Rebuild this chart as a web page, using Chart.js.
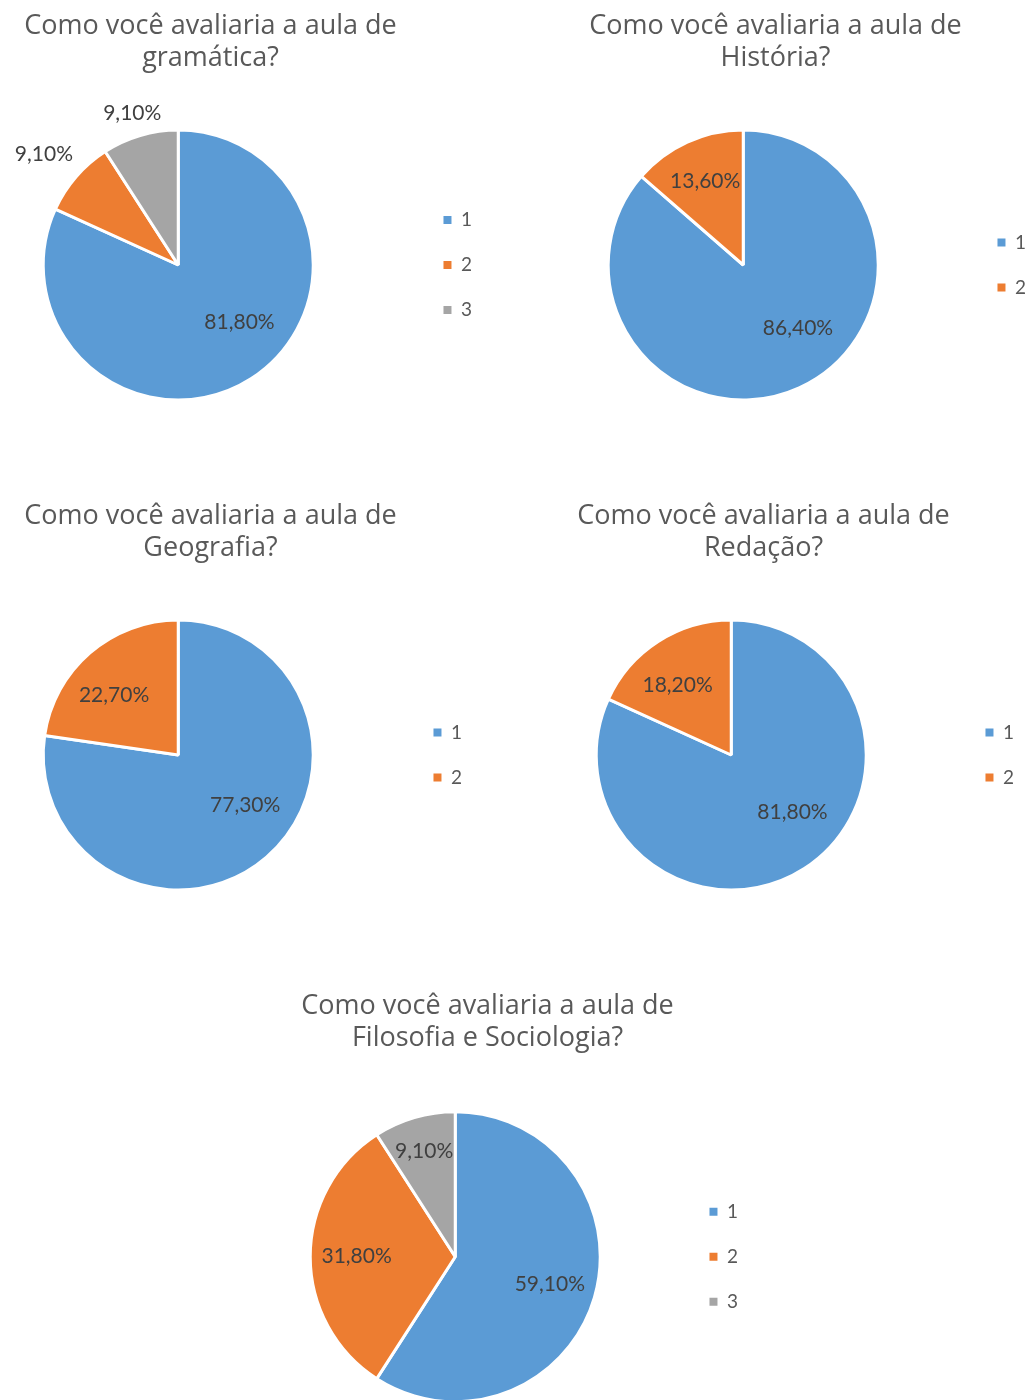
<!DOCTYPE html>
<html>
<head>
<meta charset="utf-8">
<script src="https://cdn.jsdelivr.net/npm/chart.js@4"></script>
<style>
  html, body { margin: 0; padding: 0; background: #fff; }
  body { width: 1032px; height: 1400px; position: relative; overflow: hidden; }
  canvas { position: absolute; }
</style>
</head>
<body>
<canvas id="gramatica" width="543" height="420" style="left:-61px;top:0px"></canvas>
<canvas id="historia" width="521" height="420" style="left:515px;top:0px"></canvas>
<canvas id="geografia" width="523" height="420" style="left:-51px;top:490px"></canvas>
<canvas id="redacao" width="521" height="420" style="left:503px;top:490px"></canvas>
<canvas id="filosofia" width="521" height="440" style="left:227px;top:980px"></canvas>
<script>
// categories (legend)
const labels3 = ["1", "2", "3"];
const labels2 = ["1", "2"];

// series values, in percent
const gramaticaValues = [81.8, 9.1, 9.1];
const historiaValues = [86.4, 13.6];
const geografiaValues = [77.3, 22.7];
const redacaoValues = [81.8, 18.2];
const filosofiaValues = [59.1, 31.8, 9.1];

// titles
const gramaticaTitle = ["Como você avaliaria a aula de", "gramática?"];
const historiaTitle = ["Como você avaliaria a aula de", "História?"];
const geografiaTitle = ["Como você avaliaria a aula de", "Geografia?"];
const redacaoTitle = ["Como você avaliaria a aula de", "Redação?"];
const filosofiaTitle = ["Como você avaliaria a aula de", "Filosofia e Sociologia?"];

const colors = ["#5B9BD5", "#ED7D31", "#A5A5A5"];

// percent labels on the slices
const pieLabels = {
  id: "pieLabels",
  afterDatasetsDraw(chart, args, opts) {
    const ctx = chart.ctx;
    const meta = chart.getDatasetMeta(0);
    const values = chart.data.datasets[0].data;
    const total = values.reduce((a, b) => a + b, 0);
    const outside = opts.outside || [];
    ctx.save();
    ctx.font = "21px Lato";
    ctx.fillStyle = "#404040";
    ctx.textAlign = "center";
    ctx.textBaseline = "middle";
    meta.data.forEach((arc, i) => {
      const p = arc.getProps(["x", "y", "startAngle", "endAngle", "outerRadius"], true);
      const frac = values[i] / total;
      const mid = (p.startAngle + p.endAngle) / 2;
      // angle measured from the top, in (-PI, PI]
      const fromTop = Math.atan2(Math.sin(mid + Math.PI / 2), Math.cos(mid + Math.PI / 2));
      const text = values[i].toFixed(2).replace(".", ",") + "%";
      let px, py;
      if (outside.includes(i)) {
        const w = ctx.measureText(text).width;
        const dx = Math.cos(mid);
        const dy = Math.sin(mid);
        const d = p.outerRadius + 8 + Math.abs(dx) * (w / 2 + 8) + Math.abs(dy) * 10;
        px = p.x + dx * d;
        py = p.y + dy * d + 5;
      } else {
        let a = mid;
        let f = 0.68;
        if (frac > 0.7) {
          // big slice: label pulled toward the horizontal
          a = mid * 0.75;
          f = 0.62;
        } else if (frac < 0.1) {
          f = 0.76;
        } else if (frac > 0.15 && frac < 0.3) {
          a = -Math.PI / 2 + fromTop * 1.15;
          f = 0.65;
        }
        px = p.x + Math.cos(a) * p.outerRadius * f;
        py = p.y + Math.sin(a) * p.outerRadius * f;
      }
      ctx.fillText(text, px, py);
    });
    ctx.restore();
  },
};

function makePie(id, labels, values, title, titleBottom, padBottom, outside) {
  return new Chart(document.getElementById(id), {
    type: "pie",
    data: {
      labels: labels,
      datasets: [
        {
          data: values,
          backgroundColor: colors.slice(0, values.length),
          borderColor: "#ffffff",
          borderWidth: 3,
          hoverOffset: 0,
        },
      ],
    },
    options: {
      responsive: false,
      animation: false,
      events: [],
      layout: {
        padding: { bottom: padBottom },
      },
      plugins: {
        title: {
          display: true,
          text: title,
          color: "#595959",
          font: { family: "Open Sans", size: 27, weight: "normal", lineHeight: "32px" },
          padding: { top: 10, bottom: titleBottom },
        },
        legend: {
          position: "right",
          fullSize: false,
          labels: {
            usePointStyle: true,
            boxWidth: 8,
            boxHeight: 8,
            padding: 26,
            color: "#595959",
            font: { family: "Lato", size: 19 },
            generateLabels: (chart) =>
              chart.data.labels.map((text, i) => ({
                text: text,
                fillStyle: colors[i],
                strokeStyle: "transparent",
                lineWidth: 0,
                pointStyle: "rect",
                fontColor: "#595959",
                hidden: false,
                index: i,
              })),
          },
        },
        tooltip: { enabled: false },
        pieLabels: { outside: outside },
      },
    },
    plugins: [pieLabels],
  });
}

makePie("gramatica", labels3, gramaticaValues, gramaticaTitle, 54.5, 18.5, [1, 2]);
makePie("historia", labels2, historiaValues, historiaTitle, 54.5, 18.5, []);
makePie("geografia", labels2, geografiaValues, geografiaTitle, 54.5, 18.5, []);
makePie("redacao", labels2, redacaoValues, redacaoTitle, 54.5, 18.5, []);
makePie("filosofia", labels3, filosofiaValues, filosofiaTitle, 56.2, 16.8, []);
</script>
</body>
</html>
